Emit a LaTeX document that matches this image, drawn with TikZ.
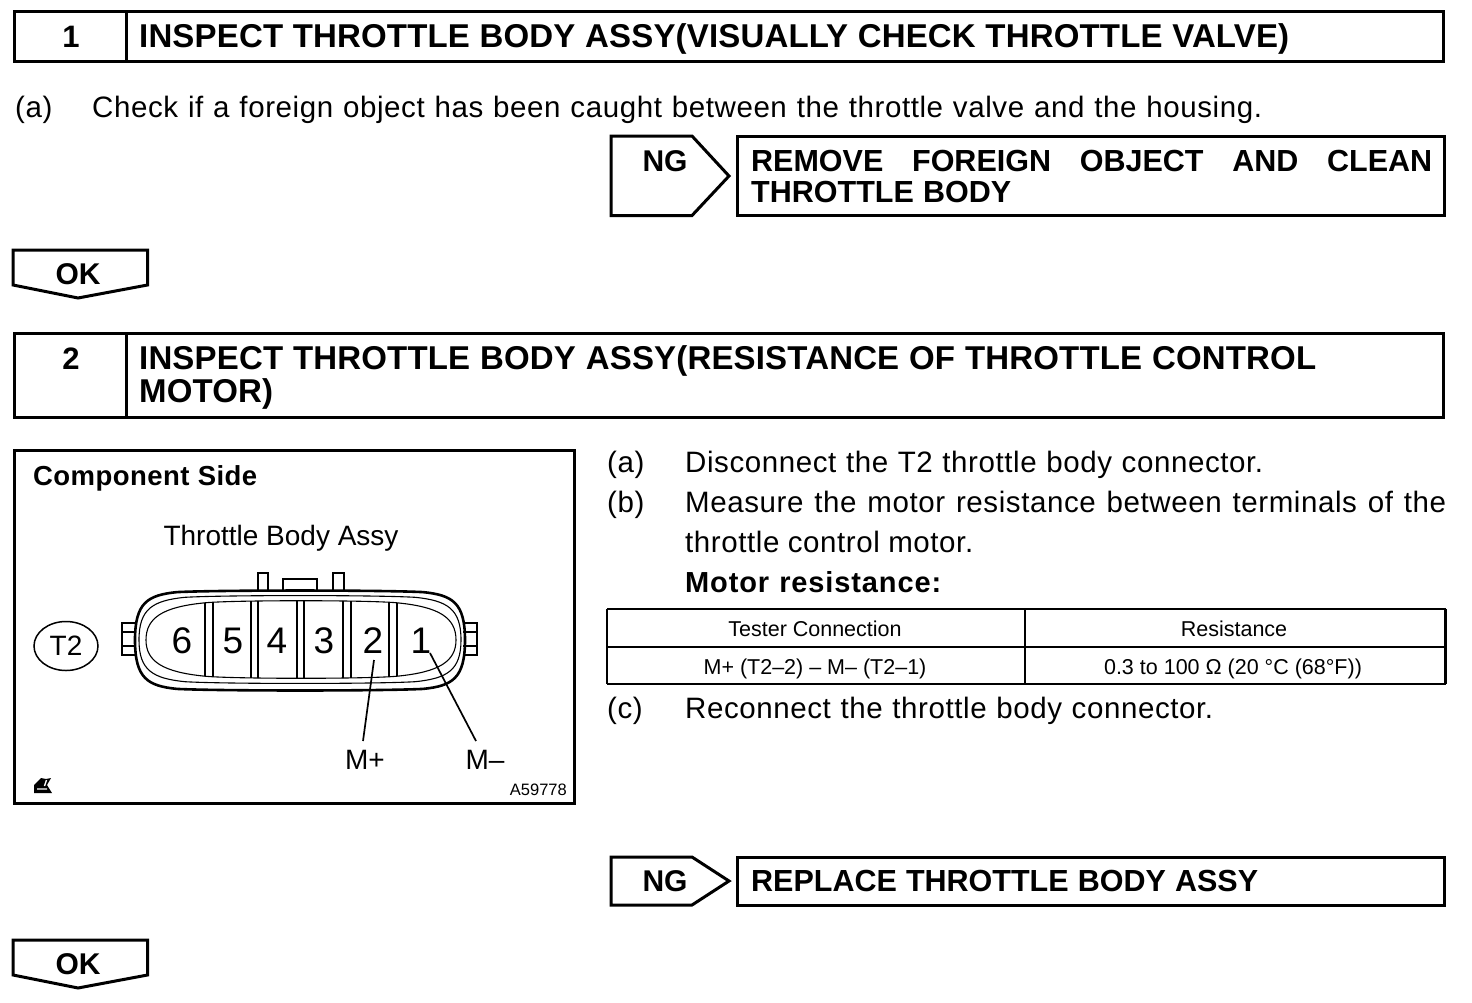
\documentclass[tikz,border=0pt]{standalone}
\usepackage{fontspec}
\usetikzlibrary{shapes.geometric}
\setmainfont{Liberation Sans}
\newcommand{\connpath}[5]{(#1,640) .. controls (#1,#3+#5*0.3) and (#1+#5*0.3,#3+#5*0.12) .. (#1+#5,#3+#5*0.05) .. controls (#1+85,#3) and (#2-85,#3) .. (#2-#5,#3+#5*0.05) .. controls (#2-#5*0.3,#3+#5*0.12) and (#2,#3+#5*0.3) .. (#2,640) .. controls (#2,#4-#5*0.3) and (#2-#5*0.3,#4-#5*0.12) .. (#2-#5,#4-#5*0.05) .. controls (#2-85,#4) and (#1+85,#4) .. (#1+#5,#4-#5*0.05) .. controls (#1+#5*0.3,#4-#5*0.12) and (#1,#4-#5*0.3) .. (#1,640) -- cycle}
\newcommand{\fitline}[2]{\makebox[#1pt][s]{#2}}
\tikzset{
  x=1pt,y=-1pt,
  framebox/.style={draw=black,line width=3pt,line join=miter},
  thinline/.style={draw=black,line width=1.1pt},
  midline/.style={draw=black,line width=1.7pt},
  heading/.style={anchor=base west,inner sep=0pt,font=\fontsize{33}{33}\selectfont\bfseries\addfontfeature{LetterSpace=0.5}},
  numlab/.style={anchor=base,inner sep=0pt,font=\fontsize{31}{31}\selectfont\bfseries},
  flag/.style={anchor=base,inner sep=0pt,font=\fontsize{30}{30}\selectfont\bfseries},
  result/.style={anchor=base west,inner sep=0pt,font=\fontsize{30.5}{30.5}\selectfont\bfseries},
  body/.style={anchor=base west,inner sep=0pt,font=\fontsize{29.5}{29.5}\selectfont\addfontfeature{LetterSpace=2}},
  cell/.style={anchor=base,inner sep=0pt,font=\fontsize{21.5}{21.5}\selectfont},
  pin/.style={anchor=base,inner sep=0pt,font=\fontsize{37}{37}\selectfont},
  fig/.style={anchor=base,inner sep=0pt,font=\fontsize{28}{28}\selectfont},
}
\begin{document}
\begin{tikzpicture}
\useasboundingbox (0,0) rectangle (1472,1002);
% heading 1
\draw[framebox] (14,11) rectangle (1443.5,61.5);
\draw[framebox] (126,11) -- (126,61.5);
\node[numlab] (n1) at (71,47) {1};
\node[heading] (h1) at (139,47) {\fitline{1150}{INSPECT THROTTLE BODY ASSY(VISUALLY CHECK THROTTLE VALVE)}};
\node[body] (a1) at (15,117) {(a)};
\node[body] (a1t) at (92,117) {\fitline{1170}{Check if a foreign object has been caught between the throttle valve and the housing.}};
% NG 1
\draw[framebox] (611,136) -- (692,136) -- (729,176) -- (692,215.5) -- (611,215.5) -- cycle;
\node[flag] (ng1) at (665,171) {NG};
\draw[framebox] (737,136) rectangle (1444.5,215.5);
\node[result] (r1a) at (751,171) {\makebox[681pt][s]{REMOVE\hfill FOREIGN\hfill OBJECT\hfill AND\hfill CLEAN}};
\node[result] (r1b) at (751,202) {\fitline{260}{THROTTLE BODY}};
% OK 1
\draw[framebox] (13,250) -- (147.5,250) -- (147.5,285) -- (78,298) -- (13,285) -- cycle;
\node[flag] (ok1) at (78,284) {OK};
% heading 2
\draw[framebox] (14,333) rectangle (1443.5,417.5);
\draw[framebox] (126,333) -- (126,417.5);
\node[numlab] (n2) at (71,369) {2};
\node[heading] (h2a) at (139,369) {\fitline{1177}{INSPECT THROTTLE BODY ASSY(RESISTANCE OF THROTTLE CONTROL}};
\node[heading] (h2b) at (139,402) {MOTOR)};
% figure
\draw[framebox] (14,450) rectangle (574.5,803.5);
\node[anchor=base west,inner sep=0pt,font=\fontsize{27.5}{27.5}\selectfont\bfseries\addfontfeature{LetterSpace=1.6}] (cs) at (33,485) {\fitline{224}{Component Side}};
\node[fig] (tba) at (281,545) {Throttle Body Assy};
\node[draw=black,line width=1.5pt,ellipse,minimum width=64pt,minimum height=49pt,inner sep=0pt,font=\fontsize{28}{28}\selectfont] (t2) at (66,646) {T2};
% connector tabs
\draw[midline] (136,623) -- (122,623) -- (122,655) -- (136,655);
\draw[thinline] (122,632) -- (136,632) (122,646) -- (136,646);
\draw[midline] (463,623) -- (477,623) -- (477,655) -- (463,655);
\draw[thinline] (463,632) -- (477,632) (463,646) -- (477,646);
\draw[midline] (258,591) -- (258,573) -- (268,573) -- (268,591);
\draw[midline] (333,591) -- (333,573) -- (344,573) -- (344,591);
\draw[midline] (283,590) -- (283,579) -- (317,579) -- (317,590);
% connector body
\draw[draw=black,line width=2.6pt] \connpath{135}{465}{590}{691}{42};
\draw[thinline] \connpath{139}{461}{595}{684}{46};
\draw[thinline] \connpath{146}{456}{600}{679}{58};
\begin{scope}
\clip \connpath{146}{456}{600}{679}{58};
\foreach \xa/\xb in {205/213,251/258,297/304,343/351,389/397}{
  \draw[thinline] (\xa,590) -- (\xa,690) (\xb,590) -- (\xb,690);
}
\draw[midline] (205,590) -- (205,690);
\end{scope}
\node[pin] (p6) at (182,653) {6};
\node[pin] (p5) at (233,653) {5};
\node[pin] (p4) at (277,653) {4};
\node[pin] (p3) at (324,653) {3};
\node[pin] (p2) at (373,653) {2};
\node[pin] (p1) at (421,653) {1};
\node[fig] (mp) at (365,769) {M+};
\node[fig] (mm) at (485,769) {M–};
\coordinate (mpa) at (374,660);
\coordinate (mpb) at (363,741);
\coordinate (mma) at (430,653);
\coordinate (mmb) at (476,741);
\draw[midline] (mpa) -- (mpb);
\draw[midline] (mma) -- (mmb);
\fill[black] (34,793) -- (34,785) -- (41,778) -- (46,779) -- (51,778) -- (47,785) -- (52,793) -- cycle;
\draw[white,line width=1.4pt] (37,789) -- (47,789) (46.5,780) -- (44.5,786);
\node[anchor=base east,inner sep=0pt,font=\fontsize{16.5}{16.5}\selectfont] (code) at (567,795) {A59778};
% right text
\node[body] (ba) at (607,472) {(a)};
\node[body] (bat) at (685,472) {\fitline{578}{Disconnect the T2 throttle body connector.}};
\node[body] (bb) at (607,512) {(b)};
\node[body] (bbt) at (685,512) {\makebox[761pt][s]{Measure\hfill the\hfill motor\hfill resistance\hfill between\hfill terminals\hfill of\hfill the}};
\node[body] (bbu) at (685,552) {\fitline{288}{throttle control motor.}};
\node[anchor=base west,inner sep=0pt,font=\fontsize{29}{29}\selectfont\bfseries\addfontfeature{LetterSpace=3}] (mr) at (685,592) {\fitline{256}{Motor resistance:}};
% table
\draw[line width=2.5pt] (607,609) -- (1446,609) (607,647) -- (1446,647) (607,684) -- (1446,684);
\draw[line width=2.5pt] (607,609) -- (607,684) (1025,609) -- (1025,684) (1445.5,609) -- (1445.5,684);
\node[cell] (c11) at (815,636) {Tester Connection};
\node[cell] (c12) at (1234,636) {Resistance};
\node[cell] (c21) at (815,674) {M+ (T2–2) – M– (T2–1)};
\node[cell] (c22) at (1233,674) {0.3 to 100 Ω (20 °C (68°F))};
\node[body] (bc) at (607,718) {(c)};
\node[body] (bct) at (685,718) {\fitline{528}{Reconnect the throttle body connector.}};
% NG 2
\draw[framebox] (611,857) -- (692,857) -- (729,881) -- (692,905) -- (611,905) -- cycle;
\node[flag] (ng2) at (665,891) {NG};
\draw[framebox] (737,857) rectangle (1444.5,905);
\node[result] (r2) at (751,891) {\fitline{507}{REPLACE THROTTLE BODY ASSY}};
% OK 2
\draw[framebox] (13,940) -- (147.5,940) -- (147.5,975) -- (78,988) -- (13,975) -- cycle;
\node[flag] (ok2) at (78,974) {OK};
\end{tikzpicture}
\end{document}
